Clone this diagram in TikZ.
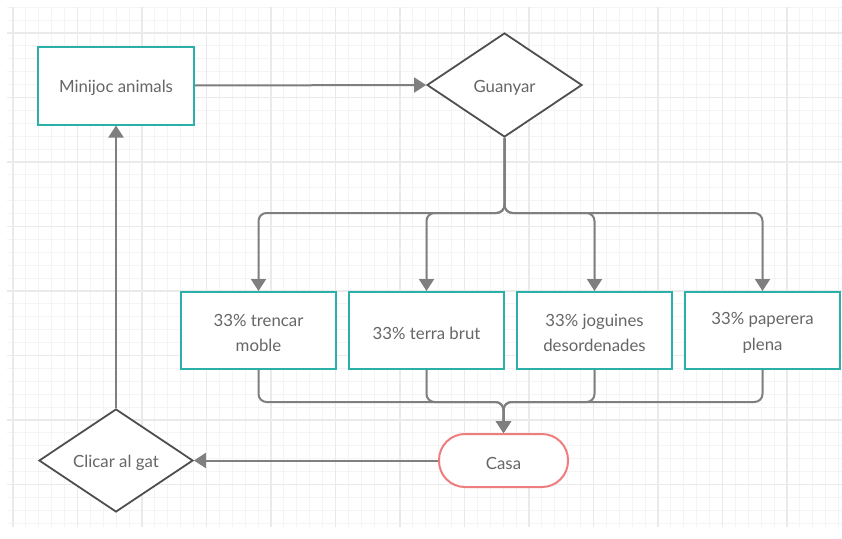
\documentclass[tikz,border=0pt]{standalone}
\usepackage{fontspec}
\setmainfont{Lato}
\usetikzlibrary{shapes.geometric,arrows.meta}
\definecolor{boxteal}{HTML}{2BB0A9}
\definecolor{casared}{HTML}{F07D7D}
\definecolor{connc}{HTML}{7F7F7F}
\definecolor{diac}{HTML}{4F4F4F}
\definecolor{txtc}{HTML}{666666}
\definecolor{gminc}{HTML}{F4F4F4}
\definecolor{gmajc}{HTML}{EAEAEA}
\tikzset{
  lbl/.style={text=txtc, font=\fontsize{16.8}{25.5}\selectfont, align=center, inner sep=0pt},
  tbox/.style={draw=boxteal, line width=2pt, fill=white, rectangle, inner sep=0pt, minimum width=155pt, minimum height=77pt},
  dbox/.style={draw=diac, line width=1.8pt, fill=white, diamond, inner sep=0pt},
  cbox/.style={draw=casared, line width=2pt, fill=white, rectangle, rounded corners=26pt, inner sep=0pt, minimum width=129pt, minimum height=53pt},
  conn/.style={draw=connc, line width=2pt, rounded corners=8pt},
  arr/.style={-{Triangle[width=15pt,length=12pt]}},
  gmin/.style={draw=gminc, line width=0.9pt},
  gmaj/.style={draw=gmajc, line width=1.4pt}
}
\begin{document}
\begin{tikzpicture}[x=1pt,y=-1pt]
\useasboundingbox (0,0) rectangle (842,538);
\fill[white] (0,0) rectangle (842,538);
% grid
\foreach \k in {0,...,64} \draw[gmin] ({13+12.9*\k},7) -- ({13+12.9*\k},527);
\foreach \k in {0,...,40} \draw[gmin] (7,{7.2+12.9*\k}) -- (842,{7.2+12.9*\k});
\foreach \k in {0,...,12} \draw[gmaj] ({13+64.5*\k},7) -- ({13+64.5*\k},527);
\foreach \k in {0,...,7} \draw[gmaj] (7,{33+64.5*\k}) -- (842,{33+64.5*\k});
% shapes
\node[tbox, minimum width=156pt, minimum height=78pt] (mini) at (116,85.5) {};
\node[dbox, minimum width=155pt, minimum height=104pt] (guan) at (504.5,85) {};
\node[tbox] (b1) at (258.5,330.5) {};
\node[tbox] (b2) at (426.5,330.5) {};
\node[tbox] (b3) at (594.5,330.5) {};
\node[tbox] (b4) at (762.5,330.5) {};
\node[cbox] (casa) at (503.5,460.5) {};
\node[dbox, minimum width=154pt, minimum height=103pt] (clic) at (116,460.5) {};
% texts
\node[lbl] (tmini) at ([yshift=-2.5pt]mini.center) {Minijoc animals};
\node[lbl] (tguan) at ([yshift=-2.5pt]guan.center) {Guanyar};
\node[lbl] (tb1) at ([yshift=-2.5pt]b1.center) {33\% trencar\\moble};
\node[lbl] (tb2) at ([yshift=-2.5pt]b2.center) {33\% terra brut};
\node[lbl] (tb3) at ([yshift=-2.5pt]b3.center) {33\% joguines\\desordenades};
\node[lbl] (tb4) at ([yshift=-2.5pt]b4.center) {33\% paperera\\plena};
\node[lbl] (tcasa) at ([yshift=-2.5pt]casa.center) {Casa};
\node[lbl] (tclic) at ([yshift=-2.5pt]clic.center) {Clicar al gat};
\coordinate (bus) at (504.5,213);
\coordinate (merge) at (503.5,402);
% connectors
\draw[conn, arr] (mini.east) -- (guan.west);
\foreach \b in {b1,b2,b3,b4} \draw[conn, arr] (guan.south) -- (bus) -| (\b.north);
\foreach \b in {b1,b2,b3,b4} \draw[conn, arr] (\b.south) |- (merge) -- (casa.north);
\draw[conn, arr] (casa.west) -- (clic.east);
\draw[conn, arr] (clic.north) -- (mini.south);
\end{tikzpicture}
\end{document}
